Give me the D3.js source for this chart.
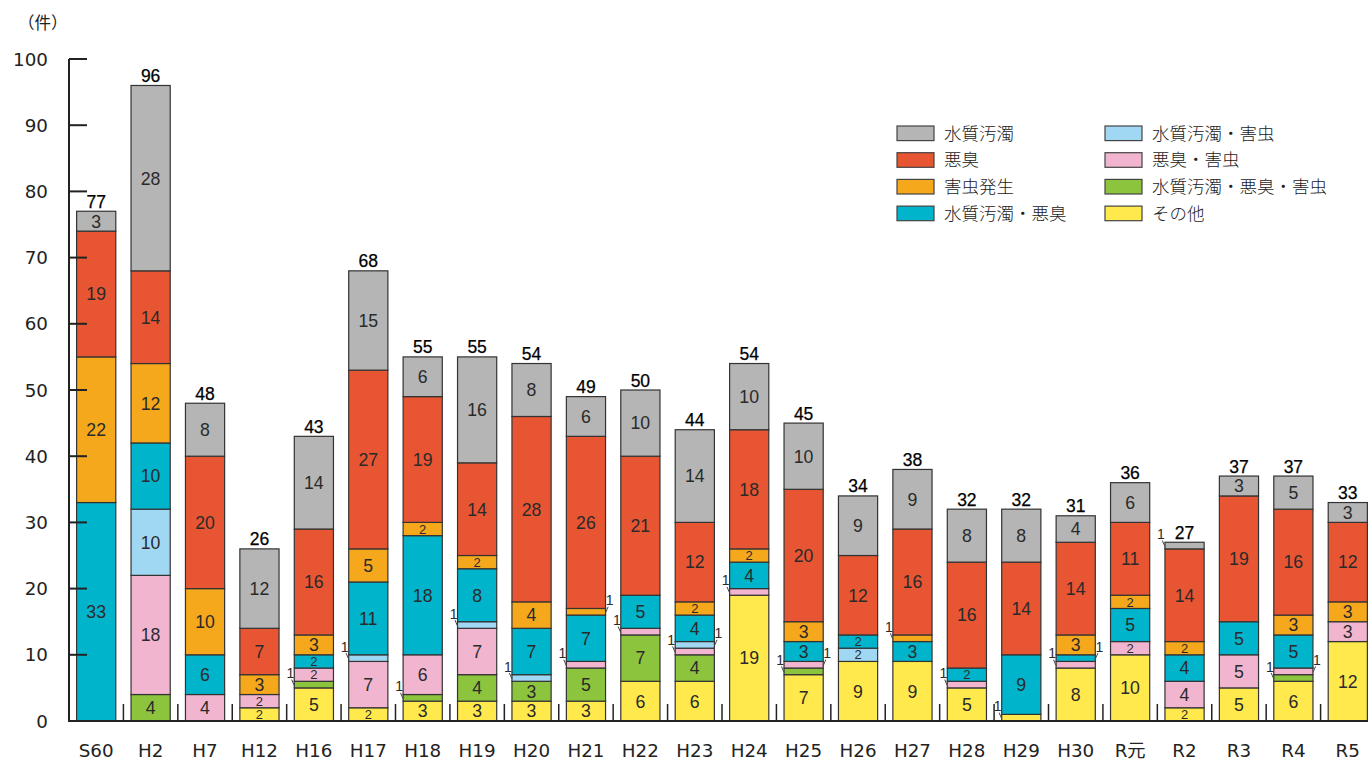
<!DOCTYPE html>
<html lang="ja">
<head>
<meta charset="utf-8">
<script src="https://cdn.jsdelivr.net/npm/d3@7"></script>
<style>
  html, body { margin: 0; padding: 0; background: #fff; }
  svg { display: block; font-family: "Noto Sans CJK JP", "Noto Sans", sans-serif; }
  .axis-num { font-family: "DejaVu Sans", "Noto Sans CJK JP", sans-serif; }
  .seg-num { font-family: "Liberation Sans", "Noto Sans CJK JP", sans-serif; }
</style>
</head>
<body>
<svg id="chart" width="1368" height="760"></svg>
<script>
// 年度
const categories = ["S60","H2","H7","H12","H16","H17","H18","H19","H20","H21","H22","H23","H24","H25","H26","H27","H28","H29","H30","R元","R2","R3","R4","R5"];

// 苦情件数（下から積み上げ順）
const sonota        = [0,0,0,2,5,2,3,3,3,3,6,6,19,7,9,9,5,1,8,10,2,5,6,12];
const suiAkuGaichu  = [0,4,0,0,1,0,1,4,3,5,7,4,0,1,0,0,0,0,0,0,0,0,1,0];
const akuGaichu     = [0,18,4,2,2,7,6,7,0,1,1,1,1,1,0,0,1,0,1,2,4,5,1,3];
const suiGaichu     = [0,10,0,0,0,1,0,1,1,0,0,1,0,0,2,0,0,0,0,0,0,0,0,0];
const suiAkushu     = [33,10,6,0,2,11,18,8,7,7,5,4,4,3,2,3,2,9,1,5,4,5,5,0];
const gaichu        = [22,12,10,3,3,5,2,2,4,1,0,2,2,3,0,1,0,0,3,2,2,0,3,3];
const akushu        = [19,14,20,7,16,27,19,14,28,26,21,12,18,20,12,16,16,14,14,11,14,19,16,12];
const suishitsu     = [3,28,8,12,14,15,6,16,8,6,10,14,10,10,9,9,8,8,4,6,1,3,5,3];

const yTicks = [0,10,20,30,40,50,60,70,80,90,100];

// 系列の定義（積み上げは下から）
const series = [
  { key: "sonota",       name: "その他",             values: sonota,       color: "#ffe94c" },
  { key: "suiAkuGaichu", name: "水質汚濁・悪臭・害虫", values: suiAkuGaichu, color: "#8cc43e" },
  { key: "akuGaichu",    name: "悪臭・害虫",          values: akuGaichu,    color: "#f2b5d0" },
  { key: "suiGaichu",    name: "水質汚濁・害虫",      values: suiGaichu,    color: "#a0d8f3" },
  { key: "suiAkushu",    name: "水質汚濁・悪臭",      values: suiAkushu,    color: "#00b4cc" },
  { key: "gaichu",       name: "害虫発生",            values: gaichu,       color: "#f5a81c" },
  { key: "akushu",       name: "悪臭",                values: akushu,       color: "#e85533" },
  { key: "suishitsu",    name: "水質汚濁",            values: suishitsu,    color: "#b4b5b4" }
];

// 件数1の引出し線を右側に出す箇所
const rightCallouts = [["H21","gaichu"],["H23","suiGaichu"],["H25","akuGaichu"],["H30","suiAkushu"],["R4","akuGaichu"]];

// 凡例の並び（左列・右列）
const legendCols = [
  ["suishitsu","akushu","gaichu","suiAkushu"],
  ["suiGaichu","akuGaichu","suiAkuGaichu","sonota"]
];

const rows = categories.map((c, i) => {
  const r = { cat: c };
  series.forEach(s => r[s.key] = s.values[i]);
  return r;
});

const svg = d3.select("#chart");

const x = d3.scaleBand().domain(categories).range([69, 1375]).paddingInner(0.28).paddingOuter(0.14);
const y = d3.scaleLinear().domain([0, 100]).range([721, 59]);

const stack = d3.stack().keys(series.map(s => s.key));
const stacked = stack(rows);
const colorOf = Object.fromEntries(series.map(s => [s.key, s.color]));
const nameOf = Object.fromEntries(series.map(s => [s.key, s.name]));

// 棒
const layers = svg.append("g").selectAll("g").data(stacked).join("g")
  .attr("fill", d => colorOf[d.key]);

layers.selectAll("rect")
  .data(d => d.map(p => ({ key: d.key, cat: p.data.cat, y0: p[0], y1: p[1] })).filter(p => p.y1 > p.y0))
  .join("rect")
  .attr("x", d => x(d.cat))
  .attr("width", x.bandwidth())
  .attr("y", d => y(d.y1))
  .attr("height", d => y(d.y0) - y(d.y1))
  .attr("stroke", "#333")
  .attr("stroke-width", 1.2);

// 軸
const axisG = svg.append("g");
axisG.append("line")
  .attr("x1", 69).attr("x2", 69).attr("y1", y(100)).attr("y2", y(0))
  .attr("stroke", "#222").attr("stroke-width", 2);
axisG.append("line")
  .attr("x1", 68).attr("x2", 1368).attr("y1", y(0)).attr("y2", y(0))
  .attr("stroke", "#222").attr("stroke-width", 2);

axisG.selectAll(".ytick").data(yTicks).join("line")
  .attr("x1", 69).attr("x2", 87)
  .attr("y1", d => y(d)).attr("y2", d => y(d))
  .attr("stroke", "#222").attr("stroke-width", 2);

axisG.selectAll(".ylab").data(yTicks).join("text")
  .attr("class", "axis-num")
  .attr("x", 48).attr("y", d => y(d))
  .attr("dy", "0.36em")
  .attr("text-anchor", "end")
  .attr("font-size", 18.3)
  .attr("fill", "#222")
  .text(d => d);

// 年度の区切り
const bounds = categories.slice(1).map(c => x(c) - x.step() * x.paddingInner() / 2);
axisG.selectAll(".xtick").data(bounds).join("line")
  .attr("x1", d => d).attr("x2", d => d)
  .attr("y1", y(0)).attr("y2", y(0) - 17)
  .attr("stroke", "#222").attr("stroke-width", 1.5);

axisG.selectAll(".xlab").data(categories).join("text")
  .attr("class", "axis-num")
  .attr("x", d => x(d) + x.bandwidth() / 2)
  .attr("y", 757)
  .attr("text-anchor", "middle")
  .attr("font-size", 18.3)
  .attr("fill", "#222")
  .text(d => d);

svg.append("text")
  .attr("x", 18).attr("y", 23)
  .attr("dy", "0.35em")
  .attr("font-size", 16.5)
  .attr("fill", "#222")
  .text("（件）");

// 棒内の数値
const segs = stacked.flatMap(layer => layer.map(p => ({
  key: layer.key, cat: p.data.cat, v: p[1] - p[0], y0: p[0], y1: p[1]
}))).filter(d => d.v > 0);

const labelG = svg.append("g");
labelG.selectAll("text.big").data(segs.filter(d => d.v >= 2)).join("text")
  .attr("class", "seg-num")
  .attr("x", d => x(d.cat) + x.bandwidth() / 2)
  .attr("y", d => y((d.y0 + d.y1) / 2))
  .attr("dy", "0.36em")
  .attr("text-anchor", "middle")
  .attr("font-size", d => d.v === 2 ? 13 : 17.7)
  .attr("fill", "#2a2a2a")
  .text(d => d.v);

// 件数1は引出し線付き
const isRight = d => rightCallouts.some(([c, k]) => c === d.cat && k === d.key);
const ones = segs.filter(d => d.v === 1);
const oneG = labelG.selectAll("g.one").data(ones).join("g");
oneG.append("line")
  .attr("x1", d => isRight(d) ? x(d.cat) + x.bandwidth() + 2.6 : x(d.cat) - 2.6)
  .attr("y1", d => y((d.y0 + d.y1) / 2) - 5)
  .attr("x2", d => isRight(d) ? x(d.cat) + x.bandwidth() : x(d.cat))
  .attr("y2", d => y((d.y0 + d.y1) / 2) + 1)
  .attr("stroke", "#444").attr("stroke-width", 1);
oneG.append("text")
  .attr("class", "seg-num")
  .attr("x", d => isRight(d) ? x(d.cat) + x.bandwidth() + 4 : x(d.cat) - 4)
  .attr("y", d => y((d.y0 + d.y1) / 2) - 11.5)
  .attr("dy", "0.36em")
  .attr("text-anchor", "middle")
  .attr("font-size", 14)
  .attr("fill", "#2a2a2a")
  .text(d => d.v);

// 合計
const totals = rows.map(r => ({ cat: r.cat, total: d3.sum(series, s => r[s.key]) }));
labelG.selectAll("text.total").data(totals).join("text")
  .attr("class", "seg-num")
  .attr("x", d => x(d.cat) + x.bandwidth() / 2)
  .attr("y", d => y(d.total) - 3.5)
  .attr("text-anchor", "middle")
  .attr("font-size", 17.5)
  .attr("fill", "#000")
  .attr("stroke", "#000")
  .attr("stroke-width", 0.25)
  .text(d => d.total);

// 凡例
const legend = svg.append("g");
const colX = [897, 1105];
legendCols.forEach((col, ci) => {
  col.forEach((key, ri) => {
    const cy = 133.3 + ri * 26.7;
    legend.append("rect")
      .attr("x", colX[ci]).attr("y", cy - 7.3)
      .attr("width", 37).attr("height", 14.6)
      .attr("fill", colorOf[key])
      .attr("stroke", "#444").attr("stroke-width", 1.2);
    legend.append("text")
      .attr("x", colX[ci] + 47).attr("y", cy)
      .attr("dy", "0.36em")
      .attr("font-size", 17.5)
      .attr("font-weight", 300)
      .attr("fill", "#222")
      .text(nameOf[key]);
  });
});
</script>
</body>
</html>
